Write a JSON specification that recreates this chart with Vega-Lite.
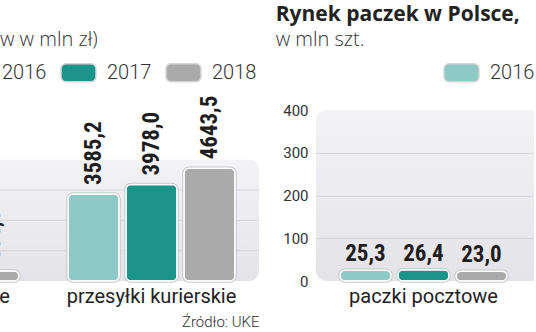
{
  "$schema": "https://vega.github.io/schema/vega-lite/v6.json",
  "padding": {"left": -176, "right": -213, "top": 4, "bottom": 0},
  "background": "white",
  "spacing": 15,
  "config": {
    "locale": {"number": {"decimal": ",", "thousands": " ", "grouping": [3], "currency": ["", " zł"]}},
    "font": "Roboto",
    "view": {
      "stroke": null,
      "cornerRadius": 10,
      "fill": {"gradient": "linear", "x1": 0, "y1": 0, "x2": 0, "y2": 1, "stops": [{"offset": 0, "color": "#f3f3f6"}, {"offset": 1, "color": "#e4e4e8"}]}
    },
    "title": {"anchor": "start", "font": "Open Sans", "fontSize": 21, "fontWeight": "bold", "color": "#222222", "subtitleFont": "Open Sans", "subtitleFontSize": 20, "subtitleFontWeight": 300, "subtitleColor": "#333333", "subtitlePadding": 5, "offset": 4},
    "axis": {"domain": false, "ticks": false, "gridColor": "#d5d5d9", "gridWidth": 1, "labelFont": "Roboto", "labelColor": "#222222"},
    "legend": {"orient": "none", "direction": "horizontal", "title": null, "symbolType": "M-0.72,-0.514H0.72A0.28,0.28 0 0 1 1,-0.234V0.234A0.28,0.28 0 0 1 0.72,0.514H-0.72A0.28,0.28 0 0 1 -1,0.234V-0.234A0.28,0.28 0 0 1 -0.72,-0.514Z", "symbolSize": 1225, "symbolStrokeColor": "#d6d6d6", "symbolStrokeWidth": 1.5, "symbolOpacity": 1, "labelFont": "Roboto", "labelFontSize": 20, "labelFontWeight": 300, "labelColor": "#333333", "labelOffset": 10, "columnPadding": 11}
  },
  "datasets": {
    "przychody": [
      {"kategoria": "paczki pocztowe", "rok": "2018", "wartosc": 414.5},
      {"kategoria": "przesyłki kurierskie", "rok": "2016", "wartosc": 3585.2},
      {"kategoria": "przesyłki kurierskie", "rok": "2017", "wartosc": 3978.0},
      {"kategoria": "przesyłki kurierskie", "rok": "2018", "wartosc": 4643.5}
    ],
    "paczki": [
      {"kategoria": "paczki pocztowe", "rok": "2016", "wartosc": 25.3},
      {"kategoria": "paczki pocztowe", "rok": "2017", "wartosc": 26.4},
      {"kategoria": "paczki pocztowe", "rok": "2018", "wartosc": 23.0}
    ]
  },
  "resolve": {"scale": {"color": "independent", "x": "independent", "y": "independent"}, "legend": {"color": "independent"}},
  "hconcat": [
    {
      "width": 431,
      "height": 171,
      "view": {"fill": null, "stroke": null},
      "title": {"text": "Rynek pocztowy,", "subtitle": "(wartość przychodów w mln zł)", "dx": -3},
      "layer": [
        {
          "data": {"values": [{}]},
          "mark": {"type": "rect", "cornerRadius": 10, "fill": {"gradient": "linear", "x1": 0, "y1": 0, "x2": 0, "y2": 1, "stops": [{"offset": 0, "color": "#f3f3f6"}, {"offset": 1, "color": "#e4e4e8"}]}},
          "encoding": {
            "y": {"datum": 5000, "type": "quantitative", "scale": {"domain": [0, 7050], "nice": false}, "axis": null},
            "y2": {"datum": 0}
          }
        },
        {
          "data": {"values": [{}]},
          "mark": {"type": "rule", "color": "#d5d5d9", "strokeWidth": 1},
          "encoding": {"y": {"datum": 1250, "type": "quantitative", "axis": null}}
        },
        {
          "data": {"values": [{}]},
          "mark": {"type": "rule", "color": "#d5d5d9", "strokeWidth": 1},
          "encoding": {"y": {"datum": 2500, "type": "quantitative", "axis": null}}
        },
        {
          "data": {"values": [{}]},
          "mark": {"type": "rule", "color": "#d5d5d9", "strokeWidth": 1},
          "encoding": {"y": {"datum": 3750, "type": "quantitative", "axis": null}}
        },
        {
          "data": {"name": "przychody"},
          "encoding": {
            "x": {"field": "kategoria", "type": "nominal", "sort": null,
              "scale": {"domain": ["paczki pocztowe", "przesyłki kurierskie"], "paddingInner": 0.227, "paddingOuter": 0.111},
              "axis": {"labelAngle": 0, "labelFontSize": 20, "labelPadding": 5, "labelLimit": 400, "grid": false, "title": "Źródło: UKE", "titleAnchor": "end", "titleFont": "Roboto", "titleFontSize": 15, "titleFontWeight": 300, "titleColor": "#333333", "titlePadding": 8}},
            "xOffset": {"field": "rok", "type": "nominal", "scale": {"domain": ["2016", "2017", "2018"], "paddingInner": 0.121, "paddingOuter": 0}},
            "y": {"field": "wartosc", "type": "quantitative", "axis": null},
            "color": {"field": "rok", "type": "nominal", "scale": {"domain": ["2016", "2017", "2018"], "range": ["#8dc9c5", "#1b958a", "#aaaaaa"]},
              "legend": {"legendX": 127, "legendY": -56}}
          },
          "layer": [
            {"mark": {"type": "bar", "cornerRadius": 5, "stroke": "#c8c8c8", "strokeWidth": 3.5}},
            {"mark": {"type": "bar", "cornerRadius": 5, "stroke": "#ffffff", "strokeWidth": 1.5}},
            {"mark": {"type": "text", "angle": 270, "align": "left", "baseline": "middle", "dx": 9, "font": "'Roboto Condensed', 'Liberation Sans Narrow', Roboto, sans-serif", "fontWeight": "bold", "fontSize": 23},
              "encoding": {"text": {"field": "wartosc", "type": "quantitative", "format": ".1f"}, "color": {"value": "#1e1e1e"}}}
          ]
        }
      ]
    },
    {
      "width": 431,
      "height": 171,
      "title": {"text": "Rynek paczek w Polsce,", "subtitle": "w mln szt.", "dx": -7},
      "data": {"name": "paczki"},
      "encoding": {
        "x": {"field": "kategoria", "type": "nominal", "sort": null,
          "scale": {"domain": ["paczki pocztowe", "przesyłki kurierskie"], "paddingInner": 0.227, "paddingOuter": 0.111},
          "axis": {"labelAngle": 0, "labelFontSize": 20, "labelPadding": 5, "labelLimit": 400, "title": null}},
        "xOffset": {"field": "rok", "type": "nominal", "scale": {"domain": ["2016", "2017", "2018"], "paddingInner": 0.121, "paddingOuter": 0}},
        "y": {"field": "wartosc", "type": "quantitative", "scale": {"domain": [0, 400], "nice": false},
          "axis": {"values": [0, 100, 200, 300, 400], "labelFontSize": 15, "labelColor": "#333333", "labelPadding": 8, "title": null, "grid": true,
            "gridOpacity": {"condition": {"test": "datum.value == 0 || datum.value == 400", "value": 0}, "value": 1}}},
        "color": {"field": "rok", "type": "nominal", "scale": {"domain": ["2016", "2017", "2018"], "range": ["#8dc9c5", "#1b958a", "#aaaaaa"]},
          "legend": {"legendX": 127, "legendY": -56}}
      },
      "layer": [
        {"mark": {"type": "bar", "cornerRadius": 5, "stroke": "#c8c8c8", "strokeWidth": 3.5}},
        {"mark": {"type": "bar", "cornerRadius": 5, "stroke": "#ffffff", "strokeWidth": 1.5}},
        {"mark": {"type": "text", "align": "center", "baseline": "bottom", "dy": -4, "font": "'Roboto Condensed', 'Liberation Sans Narrow', Roboto, sans-serif", "fontWeight": "bold", "fontSize": 23},
          "encoding": {"text": {"field": "wartosc", "type": "quantitative", "format": ".1f"}, "color": {"value": "#1e1e1e"}}}
      ]
    }
  ]
}
